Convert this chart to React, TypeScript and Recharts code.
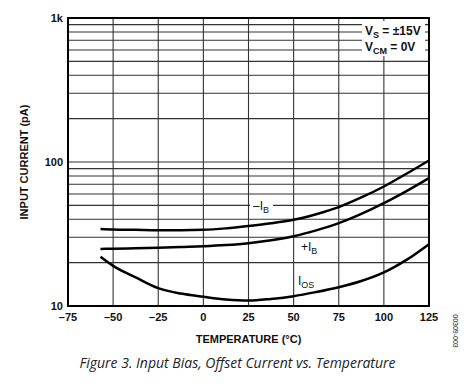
import { CartesianGrid, Line, LineChart, ReferenceArea, XAxis, YAxis } from "recharts";

const TEMPS = [-57, -50, -37.5, -25, -12.5, 0, 12.5, 25, 37.5, 50, 62.5, 75, 87.5, 100, 112.5, 125];
const NEG_IB = [34.3, 34.0, 33.8, 33.6, 33.6, 33.8, 34.6, 35.9, 37.5, 39.7, 43.4, 48.6, 56.7, 67.6, 82.9, 102.5];
const POS_IB = [24.9, 25.0, 25.2, 25.4, 25.7, 26.0, 26.5, 27.3, 28.6, 30.5, 33.5, 37.6, 43.6, 51.8, 62.8, 77.3];
const IOS = [22.0, 19.0, 15.8, 13.3, 12.2, 11.6, 11.1, 10.9, 11.2, 11.7, 12.5, 13.5, 14.9, 17.1, 20.9, 26.9];

const X_TICKS = [-75, -50, -25, 0, 25, 50, 75, 100, 125];
const Y_TICKS = [10, 20, 30, 40, 50, 60, 70, 80, 90, 100, 200, 300, 400, 500, 600, 700, 800, 900, 1000];
const Y_LABELS: Record<number, string> = { 10: "10", 100: "100", 1000: "1k" };

const data = TEMPS.map((t, i) => ({ t, negIb: NEG_IB[i], posIb: POS_IB[i], ios: IOS[i] }));

const FONT = "'Liberation Sans', Arial, sans-serif";
const tickStyle = { fontFamily: FONT, fontSize: 11, fontWeight: 700, fill: "#111" };

const sub = { fontSize: "0.75em", verticalAlign: "-0.35em" } as const;

export default function App() {
  return (
    <div
      style={{
        position: "absolute",
        left: 0,
        top: 0,
        width: 468,
        height: 384,
        background: "#fff",
        fontFamily: FONT,
        color: "#111",
      }}
    >
      <LineChart
        width={468}
        height={384}
        data={data}
        margin={{ top: 18, right: 39, bottom: 48, left: 0 }}
      >
        <CartesianGrid stroke="#333" strokeWidth={1.1} />
        <XAxis
          dataKey="t"
          type="number"
          domain={[-75, 125]}
          ticks={X_TICKS}
          height={30}
          axisLine={false}
          tickLine={false}
          tickSize={0}
          tickMargin={7}
          tick={tickStyle}
          tickFormatter={(v: number) => (v < 0 ? `\u2013${-v}` : `${v}`)}
        />
        <YAxis
          type="number"
          scale="log"
          domain={[10, 1000]}
          ticks={Y_TICKS}
          width={68}
          axisLine={false}
          tickLine={false}
          tickSize={0}
          tickMargin={5}
          interval={0}
          allowDataOverflow
          tick={tickStyle}
          tickFormatter={(v: number) => Y_LABELS[v] ?? ""}
        />
        <ReferenceArea
          x1={-75}
          x2={125}
          y1={10}
          y2={1000}
          fill="none"
          stroke="#000"
          strokeWidth={2}
          ifOverflow="visible"
        />
        <Line dataKey="negIb" type="monotone" stroke="#000" strokeWidth={2.5} dot={false} isAnimationActive={false} />
        <Line dataKey="posIb" type="monotone" stroke="#000" strokeWidth={2.5} dot={false} isAnimationActive={false} />
        <Line dataKey="ios" type="monotone" stroke="#000" strokeWidth={2.5} dot={false} isAnimationActive={false} />
      </LineChart>

      {/* conditions box */}
      <div
        style={{
          position: "absolute",
          left: 362,
          top: 21,
          width: 63,
          height: 35,
          background: "#fff",
          fontSize: 12,
          fontWeight: 700,
          lineHeight: "12px",
          paddingLeft: 3,
          paddingTop: 4,
          boxSizing: "border-box",
        }}
      >
        <div>
          V<span style={sub}>S</span> = ±15V
        </div>
        <div>
          V<span style={sub}>CM</span> = 0V
        </div>
      </div>

      {/* curve labels */}
      <div style={{ position: "absolute", left: 250, top: 200, padding: "0 4px 0 3px", background: "#fff", fontSize: 12, lineHeight: "13px" }}>
        {"\u2013"}I<span style={sub}>B</span>
      </div>
      <div style={{ position: "absolute", left: 301, top: 241, fontSize: 12, lineHeight: "13px" }}>
        +I<span style={sub}>B</span>
      </div>
      <div style={{ position: "absolute", left: 298, top: 275, fontSize: 12, lineHeight: "13px" }}>
        I<span style={sub}>OS</span>
      </div>

      {/* axis titles */}
      <div
        style={{
          position: "absolute",
          left: 0,
          top: 333,
          width: 497,
          textAlign: "center",
          fontSize: 11,
          fontWeight: 700,
        }}
      >
        TEMPERATURE (°C)
      </div>
      <div
        style={{
          position: "absolute",
          left: 24,
          top: 162,
          transform: "translate(-50%, -50%) rotate(-90deg)",
          whiteSpace: "nowrap",
          fontSize: 11,
          fontWeight: 700,
        }}
      >
        INPUT CURRENT (pA)
      </div>

      {/* figure id */}
      <div
        style={{
          position: "absolute",
          left: 455,
          top: 331,
          transform: "translate(-50%, -50%) rotate(90deg)",
          whiteSpace: "nowrap",
          fontSize: 7,
        }}
      >
        00309-003
      </div>

      {/* caption */}
      <div
        style={{
          position: "absolute",
          left: 0,
          top: 353,
          width: 475,
          textAlign: "center",
          fontFamily: "'Open Sans', sans-serif",
          fontStyle: "italic",
          fontSize: 14,
          lineHeight: "20px",
          color: "#222",
        }}
      >
        Figure 3. Input Bias, Offset Current vs. Temperature
      </div>
    </div>
  );
}
